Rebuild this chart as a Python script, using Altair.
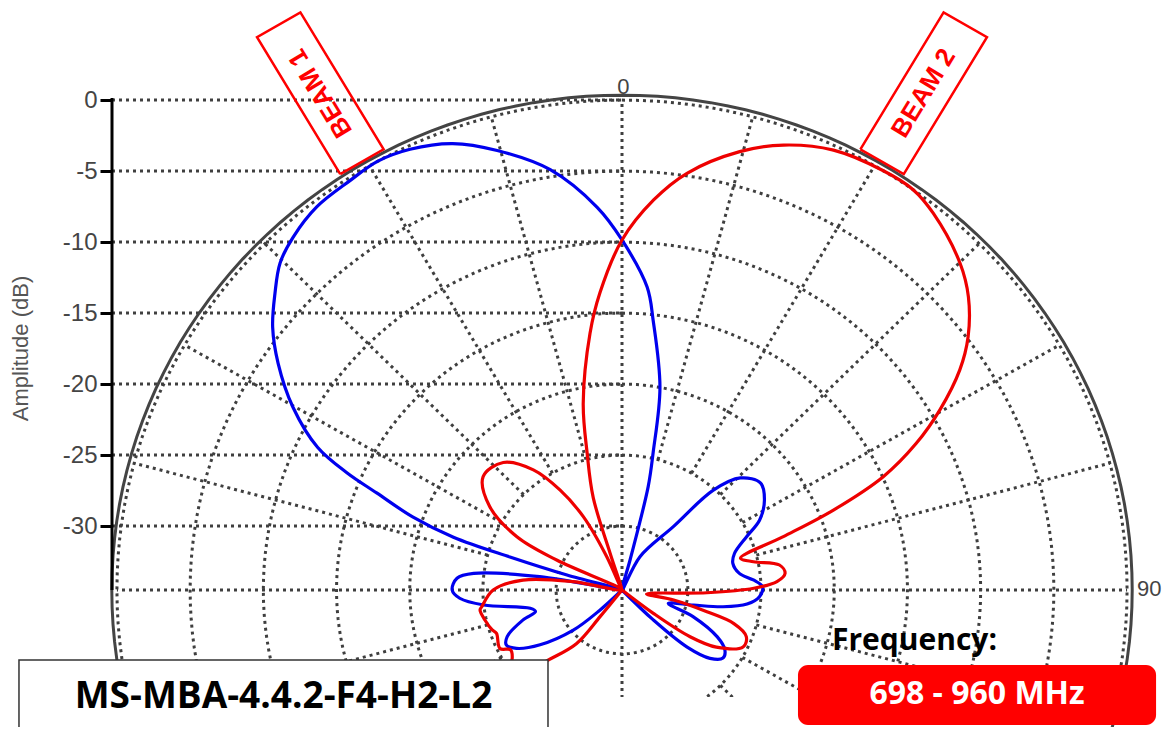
import math
import pandas as pd
import altair as alt

# ---------------- data ----------------
BLUE_ANG = [-180, -137, -133.2, -130.3, -124.6, -119.7, -116.2, -112.7, -107.4, -104.4, -101.6,
            -96.4, -93, -90, -85.8, -83.4, -80.5, -77, -74.3, -73.1, -72.1, -70.2, -67.8, -66.3,
            -64.2, -60.2, -55.8, -52.2, -48.6, -45.4, -42.1, -37.7, -32.8, -28.9, -25, -20.2,
            -15.4, -9.4, -3.6, 0, 4.6, 6.4, 10.3, 12.4, 13.8, 14.6, 20, 27.6, 38.2, 41.6, 45.7,
            51.5, 57, 62.4, 66.2, 71.5, 76.1, 81.7, 85.5, 88.6, 92.9, 96.6, 99.7, 102.3, 106.6,
            111.1, 116.9, 121, 124.8, 128.7, 132.1, 134.6, 138, 180]
BLUE_DB = [-40, -36, -32.4, -30.1, -27.7, -26.2, -25.7, -26.0, -27.4, -28.4, -28.1,
           -25.0, -23.4, -22.9, -23.2, -24.3, -28.8, -36, -30.6, -26.5, -22.4, -19.3, -16.4, -14.0,
           -11.4, -8.6, -6.1, -4.3, -2.9, -1.7, -1.0, -0.4, -0.2, 0.0, -0.25, -1.0,
           -2.4, -4.5, -7.5, -9.85, -13.1, -15.4, -20.0, -24.6, -27.0, -32.3, -36, -31.85, -28.8, -25.1, -23.2,
           -22.4, -22.9, -23.9, -25.2, -26.4, -26.7, -26.4, -25.5, -24.9, -25.1, -25.9, -27.5, -29.5, -31.2,
           -29.3, -27.2, -26.3, -26.1, -26.8, -28.5, -31.5, -36, -40]

RED_ANG = [-180, -142, -141.4, -140.5, -134.3, -131, -128, -122.6, -118.9, -116.3, -109.6, -107.6,
           -102.7, -98.3, -97, -90, -84.1, -80.1, -72, -64.7, -62.4, -56.9, -49.9, -42.1, -35.6,
           -31.0, -27.1, -24.0, -20.5, -17.4, -16.8, -13.9, -11.4, -6.9, -4.1, 0, 4.5, 8.6, 14.6,
           19.4, 25.0, 31.1, 35.2, 38.7, 45.1, 48.9, 53.0, 56.1, 59.7, 62.8, 65.9, 68.7, 71.2, 74.5,
           77.5, 80.7, 84.0, 86.8, 89.2, 91.9, 99.4, 101.3, 104.8, 107.2, 111.1, 115.7, 122.0, 125.3,
           127.5, 130, 180]
RED_DB = [-40, -36, -32.1, -29.6, -27.4, -25.5, -24.5, -25.6, -25.8, -25.2, -25.4, -25.2,
          -24.9, -24.7, -24.85, -25.7, -27.7, -31.1, -36, -29.6, -26.4, -23.7, -22.1, -22.4, -24.1,
          -26.3, -28.7, -31.9, -36, -31.8, -27.7, -24.6, -21.1, -16.3, -13.5, -9.85, -6.95, -4.82, -2.6,
          -1.28, -0.32, 0.0, 0.0, -0.5, -1.9, -3.1, -4.9, -6.7, -9.35, -11.9, -14.95, -19.0, -22.9, -26.1,
          -25.3, -23.6, -23.3, -23.9, -25.5, -28.7, -32.8, -30.9, -28.5, -26.5, -25.4, -25.3, -26.9, -28.8,
          -31.8, -36, -40]

RING_DB = [-30, -25, -20, -15, -10, -5, 0]
TICK_DB = [0, -5, -10, -15, -20, -25, -30]
SPOKE_ANG = list(range(0, 360, 15))
BEAMS = [("BEAM 1", -30.5), ("BEAM 2", 30.5)]
MODEL = "MS-MBA-4.4.2-F4-H2-L2"
FREQ_TITLE = "Frequency:"
FREQ_RANGE = "698 - 960 MHz"

assert len(BLUE_ANG) == len(BLUE_DB)
assert len(RED_ANG) == len(RED_DB)

# ---------------- layout constants ----------------
RMIN = -34.5           # dB value at the centre
PX_X, PX_Y = 14.64, 14.2   # pixels per dB unit
W, H = 1052, 689
CX_PX, CY_PX = 510, 582
XMIN = -CX_PX / PX_X
XMAX = (W - CX_PX) / PX_X
YTOP = RMIN + CY_PX / PX_Y
YBOT = RMIN - (H - CY_PX) / PX_Y
U_OUTER = 34.85
GRID = "#3f3f3f"
DASH = [3, 4]
GW = 3

X = alt.X("x:Q", scale=alt.Scale(domain=[XMIN, XMAX], nice=False, zero=False), axis=None)
Y = alt.Y("y:Q", scale=alt.Scale(domain=[YBOT, YTOP], nice=False, zero=False),
          axis=alt.Axis(values=TICK_DB, domain=False, grid=False, ticks=True,
                        tickColor="black", tickWidth=3, tickSize=12,
                        labelFont="Liberation Sans", labelFontSize=24, labelColor="#444444",
                        labelPadding=3, labelExpr="'' + datum.value",
                        title="Amplitude (dB)", titleFont="Liberation Sans", titleFontSize=22,
                        titleFontWeight="normal", titleColor="#555555",
                        titleX=-92, titleY=340, titleAngle=270, titleAlign="center",
                        titleBaseline="middle"))


def polar_xy(chart):
    return chart.transform_calculate(
        u=f"max(datum.db - ({RMIN}), 0)"
    ).transform_calculate(
        x="datum.u * sin(datum.ang * PI / 180)",
        y=f"{RMIN} + datum.u * cos(datum.ang * PI / 180)",
    )


# rings
ring_rows = []
for r in RING_DB:
    for a in range(0, 361, 2):
        ring_rows.append({"ring": r, "ang": a, "db": r})
rings = polar_xy(alt.Chart(pd.DataFrame(ring_rows))).mark_line(
    color=GRID, strokeWidth=GW, strokeDash=DASH, clip=True
).encode(x=X, y=Y, detail="ring:N", order="ang:Q")

# outer solid circle
outer_rows = [{"ang": a, "u": U_OUTER} for a in range(0, 361, 2)]
outer = alt.Chart(pd.DataFrame(outer_rows)).transform_calculate(
    x="datum.u * sin(datum.ang * PI / 180)",
    y=f"{RMIN} + datum.u * cos(datum.ang * PI / 180)",
).mark_line(color="#444444", strokeWidth=3).encode(x=X, y=Y, order="ang:Q")

# spokes
spoke_rows = []
for a in SPOKE_ANG:
    u0 = 0 if a % 90 == 0 else 9.5
    spoke_rows.append({"ang": a, "u0": u0, "u1": 34.5})
spokes = alt.Chart(pd.DataFrame(spoke_rows)).transform_calculate(
    x="datum.u0 * sin(datum.ang * PI / 180)",
    y=f"{RMIN} + datum.u0 * cos(datum.ang * PI / 180)",
    x2="datum.u1 * sin(datum.ang * PI / 180)",
    y2=f"{RMIN} + datum.u1 * cos(datum.ang * PI / 180)",
).mark_rule(color=GRID, strokeWidth=GW, strokeDash=DASH, clip=True).encode(
    x=X, y=Y, x2="x2:Q", y2="y2:Q")

# horizontal grid lines from the amplitude axis to the centre
hgrid = alt.Chart(pd.DataFrame({"y": TICK_DB, "x": [XMIN] * len(TICK_DB), "x2": [0] * len(TICK_DB)})
                  ).mark_rule(color=GRID, strokeWidth=GW, strokeDash=DASH).encode(
    x=X, y=Y, x2="x2:Q")

# axis line
axis_line = alt.Chart(pd.DataFrame({"x": [XMIN], "y": [RMIN], "y2": [0.15]})).mark_rule(
    color="black", strokeWidth=3).encode(x=X, y=Y, y2="y2:Q")

# curves
blue = polar_xy(alt.Chart(pd.DataFrame({"ang": BLUE_ANG, "db": BLUE_DB}))).mark_line(
    color="#0000ee", strokeWidth=3.2, clip=True, interpolate="catmull-rom").encode(
    x=X, y=Y, order="ang:Q")
red = polar_xy(alt.Chart(pd.DataFrame({"ang": RED_ANG, "db": RED_DB}))).mark_line(
    color="#ee0000", strokeWidth=3.2, clip=True, interpolate="catmull-rom").encode(
    x=X, y=Y, order="ang:Q")

# angle labels
lab0 = alt.Chart(pd.DataFrame({"t": ["0"], "x": [0.1], "y": [0.45]})).mark_text(
    font="Liberation Sans", fontSize=22, color="#444444", align="center", baseline="alphabetic"
).encode(x=X, y=Y, text="t:N")
lab90 = alt.Chart(pd.DataFrame({"t": ["90"], "x": [35.18], "y": [RMIN + 0.1]})).mark_text(
    font="Liberation Sans", fontSize=22, color="#444444", align="left", baseline="middle"
).encode(x=X, y=Y, text="t:N")

# beam boxes
box_rows, txt_rows = [], []
U_IN, U_OUT, HW = 35.0, 46.2, 1.72
for name, a in BEAMS:
    s, c = math.sin(math.radians(a)), math.cos(math.radians(a))
    corners = [(U_IN, -HW), (U_OUT, -HW), (U_OUT, HW), (U_IN, HW), (U_IN, -HW)]
    for i, (u, h) in enumerate(corners):
        box_rows.append({"beam": name, "i": i, "x": u * s + h * c, "y": RMIN + u * c - h * s})
    um = (U_IN + U_OUT) / 2
    ang = math.degrees(math.atan2(-c * PX_Y, s * PX_X)) % 360
    txt_rows.append({"beam": name, "x": um * s, "y": RMIN + um * c, "ang": ang})
beam_box = alt.Chart(pd.DataFrame(box_rows)).mark_line(color="#ff0000", strokeWidth=2.5).encode(
    x=X, y=Y, detail="beam:N", order="i:Q")
beam_txt = []
for row in txt_rows:
    beam_txt.append(alt.Chart(pd.DataFrame([row])).mark_text(
        font="Liberation Sans", fontWeight="bold", fontSize=26, color="#ff0000",
        angle=row["ang"], align="center", baseline="middle"
    ).encode(x=X, y=Y, text="beam:N"))

# bottom-left model box
model_box = alt.Chart(pd.DataFrame({"x": [-41.19], "x2": [-5.055], "y": [-39.43], "y2": [-45.5]})
                      ).mark_rect(fill="white", stroke="#333333", strokeWidth=1.5).encode(
    x=X, y=Y, x2="x2:Q", y2="y2:Q")
model_txt = alt.Chart(pd.DataFrame({"t": [MODEL], "x": [-23.12], "y": [-42.0]})).mark_text(
    font="Open Sans", fontWeight="bold", fontSize=37, color="black", align="center", baseline="middle"
).encode(x=X, y=Y, text="t:N")

# frequency
freq_title = alt.Chart(pd.DataFrame({"t": [FREQ_TITLE], "x": [14.34], "y": [-38.73]})).mark_text(
    font="Open Sans", fontWeight="bold", fontSize=30, color="black", align="left", baseline="alphabetic"
).encode(x=X, y=Y, text="t:N")
freq_box = alt.Chart(pd.DataFrame({"x": [12.02], "x2": [36.48], "y": [-39.78], "y2": [-44.01]})
                     ).mark_rect(fill="#ff0000", cornerRadius=10).encode(
    x=X, y=Y, x2="x2:Q", y2="y2:Q")
freq_txt = alt.Chart(pd.DataFrame({"t": [FREQ_RANGE], "x": [24.25], "y": [-41.85]})).mark_text(
    font="Open Sans", fontWeight="bold", fontSize=32, color="white", align="center", baseline="middle"
).encode(x=X, y=Y, text="t:N")

chart = alt.layer(
    rings, spokes, hgrid, outer, axis_line, blue, red, lab0, lab90, beam_box, *beam_txt,
    model_box, model_txt, freq_title, freq_box, freq_txt
).properties(
    width=W, height=H,
    padding={"left": 104, "top": 0, "right": 0, "bottom": 30},
    autosize=alt.AutoSizeParams(type="none"),
).configure_view(strokeWidth=0)

chart.save("out.html", embed_options={"renderer": "svg", "actions": False})
